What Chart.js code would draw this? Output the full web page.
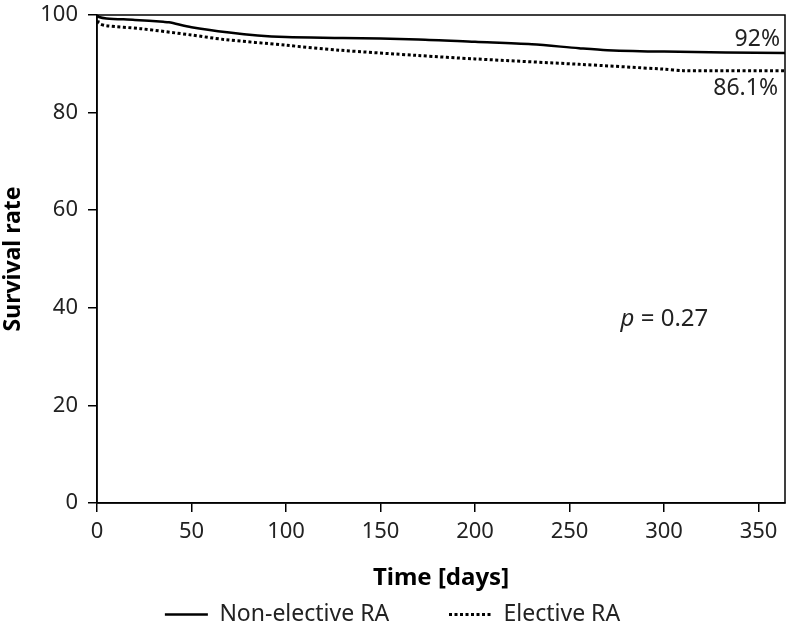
<!DOCTYPE html>
<html>
<head>
<meta charset="utf-8">
<script src="https://cdn.jsdelivr.net/npm/chart.js@4"></script>
<style>
  body { margin: 0; background: #fff; }
  #wrap { width: 786px; height: 629px; }
</style>
</head>
<body>
<div id="wrap"><canvas id="myChart" width="786" height="629"></canvas></div>
<script>
// survival curves (day, %)
const nonElectiveDays = [0, 1, 5, 20, 35, 38, 50, 70, 85, 100, 130, 170, 200, 230, 255, 270, 300, 365];
const nonElectiveVals = [100, 99.6, 99.3, 99.0, 98.6, 98.5, 97.5, 96.4, 95.8, 95.5, 95.3, 95.0, 94.5, 94.0, 93.2, 92.8, 92.5, 92.2];
const electiveDays = [0, 0.5, 1, 5, 23, 50, 67, 100, 128, 170, 200, 255, 300, 310, 365];
const electiveVals = [100, 99, 98.3, 97.8, 97.2, 95.9, 95.0, 93.8, 92.8, 91.7, 91.0, 89.9, 88.9, 88.6, 88.6];

const xTicks = [0, 50, 100, 150, 200, 250, 300, 350];
const yTicks = [0, 20, 40, 60, 80, 100];

const seriesNames = ['Non-elective RA', 'Elective RA'];
const endLabels = ['92%', '86.1%'];
const pValue = '0.27';

const FONT = 'Noto Sans';

function toPoints(days, vals) {
    return days.map((d, i) => ({ x: d, y: vals[i] }));
}

// draw frame and annotations
const extras = {
    id: 'extras',
    afterDraw(chart) {
        const ctx = chart.ctx;
        const a = chart.chartArea;
        ctx.save();
        ctx.strokeStyle = '#000';
        ctx.lineWidth = 1.5;
        ctx.strokeRect(a.left, a.top, a.right - a.left, a.bottom - a.top);
        ctx.fillStyle = '#222';
        ctx.font = '23px "' + FONT + '"';
        ctx.textAlign = 'right';
        ctx.textBaseline = 'middle';
        ctx.fillText(endLabels[0], a.right - 5, chart.scales.y.getPixelForValue(95.0));
        ctx.fillText(endLabels[1], a.right - 7, chart.scales.y.getPixelForValue(85.0));
        // p value
        const px = chart.scales.x.getPixelForValue(277);
        const py = chart.scales.y.getPixelForValue(37.6);
        ctx.textAlign = 'left';
        ctx.font = 'italic 24px "' + FONT + '"';
        ctx.fillText('p', px, py);
        const w = ctx.measureText('p').width;
        ctx.font = '24px "' + FONT + '"';
        ctx.fillText(' = ' + pValue, px + w, py);
        ctx.restore();
    }
};

const canva = document.getElementById('myChart').getContext('2d');
const myChart = new Chart(canva, {
    type: 'line',
    data: {
        datasets: [{
            label: seriesNames[0],
            data: toPoints(nonElectiveDays, nonElectiveVals),
            borderColor: '#000',
            backgroundColor: '#000',
            borderWidth: 2.5,
            pointRadius: 0,
            tension: 0.3,
            fill: false
        }, {
            label: seriesNames[1],
            data: toPoints(electiveDays, electiveVals),
            borderColor: '#000',
            backgroundColor: '#000',
            borderWidth: 3,
            borderDash: [3, 2.5],
            borderCapStyle: 'butt',
            pointRadius: 0,
            tension: 0.3,
            fill: false
        }]
    },
    options: {
        responsive: false,
        animation: false,
        layout: { padding: { top: 15, right: 1, left: 0, bottom: -7 } },
        plugins: {
            tooltip: { enabled: false },
            legend: {
                position: 'bottom',
                labels: {
                    usePointStyle: true,
                    pointStyle: 'line',
                    pointStyleWidth: 43,
                    color: '#222',
                    padding: 6,
                    font: { family: FONT, size: 23 },
                    generateLabels(chart) {
                        return chart.data.datasets.map((ds, i) => ({
                            // trailing spaces widen the gap between the two entries
                            text: i === 0 ? ds.label + '         ' : ds.label,
                            fillStyle: '#000',
                            strokeStyle: '#000',
                            lineWidth: i === 0 ? 2.5 : 3,
                            lineDash: ds.borderDash || [],
                            pointStyle: 'line',
                            fontColor: '#222',
                            datasetIndex: i,
                            hidden: false
                        }));
                    }
                }
            }
        },
        scales: {
            x: {
                type: 'linear',
                min: 0,
                max: 364,
                afterBuildTicks(scale) { scale.ticks = xTicks.map(v => ({ value: v })); },
                afterFit(scale) { scale.height = 629 + 7 - 503 - scale.chart.legend.height; },
                ticks: { color: '#222', font: { family: FONT, size: 22 }, padding: 7, maxRotation: 0 },
                grid: { drawOnChartArea: false, color: '#000', tickLength: 9, lineWidth: 1.5 },
                border: { color: '#000', width: 1.5 },
                title: { display: true, text: 'Time [days]', color: '#000', font: { family: FONT, size: 24, weight: 'bold' }, padding: { top: 0, bottom: 4 } }
            },
            y: {
                min: 0,
                max: 100,
                afterBuildTicks(scale) { scale.ticks = yTicks.map(v => ({ value: v })); },
                afterFit(scale) {
                    scale.width = 97;
                    scale.paddingTop = 0;
                    scale.paddingBottom = 0;
                },
                ticks: { color: '#222', font: { family: FONT, size: 22 }, padding: 10 },
                grid: { drawOnChartArea: false, color: '#000', tickLength: 9, lineWidth: 1.5 },
                border: { color: '#000', width: 1.5 },
                title: { display: true, text: 'Survival rate', color: '#000', font: { family: FONT, size: 23, weight: 'bold' }, padding: 0 }
            }
        }
    },
    plugins: [extras]
});
</script>
</body>
</html>
